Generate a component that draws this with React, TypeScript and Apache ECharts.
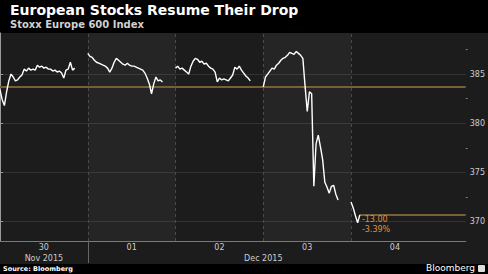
import React, { useEffect, useRef } from "react";
import * as echarts from "echarts";

// ---- data ----
const dayLabels = ["30", "01", "02", "03", "04"];
const monthLabels = ["Nov 2015", "Dec 2015"];
const monthDaySpans = [
  [0, 1],
  [1, 5],
];
const yTicks = [370, 375, 380, 385];
const yMinorTicks = [372.5, 377.5, 382.5, 387.5];
const stepMinutes = 15;
const sessionMinutes = 510;

const nov30 = [
  383.4, 382.4, 381.8, 383.2, 384.3, 385.0, 384.7, 384.3, 384.4, 384.7, 384.9, 385.5,
  385.3, 385.6, 385.4, 385.5, 385.4, 385.9, 385.7, 385.8, 385.6, 385.7, 385.5, 385.5,
  385.3, 385.4, 385.2, 385.3, 385.1, 384.6, 385.4, 385.5, 386.2, 385.4, 385.6,
];
const dec01 = [
  387.1, 386.8, 386.7, 386.4, 386.2, 386.1, 386.0, 385.9, 385.8, 385.6, 385.2, 385.6,
  386.2, 386.6, 386.4, 386.2, 386.0, 385.9, 386.1, 385.9, 385.8, 385.8, 385.7, 385.6,
  385.5, 385.4, 385.1, 384.6, 384.0, 383.0, 384.0, 384.7, 384.3, 384.4, 384.2,
];
const dec02 = [
  385.6, 385.8, 385.5, 385.6, 385.4, 385.2, 385.0, 385.8, 386.3, 386.6, 386.5, 386.2,
  386.3, 386.0, 386.1, 385.8, 385.6, 385.5, 385.2, 384.2, 384.6, 384.4, 384.5, 384.4,
  384.3, 384.6, 384.9, 385.7, 385.5, 385.8, 385.4, 385.1, 384.8, 384.6, 384.3,
];
const dec03 = [
  383.7, 384.7, 385.0, 385.3, 385.6, 385.5, 385.9, 386.1, 386.4, 386.6, 386.7, 386.9,
  387.2, 387.1, 387.0, 387.3, 387.1, 386.9, 386.6, 383.8, 381.2, 383.2, 383.0, 373.6,
  377.9, 378.8, 377.6, 376.3, 374.0, 373.5, 372.9, 373.6, 373.7, 372.8, 372.2,
];
const dec04 = [372.0, 371.4, 370.6, 369.9, 370.7];
const days = [nov30, dec01, dec02, dec03, dec04];

const prevClose = 383.7;

// ---- layout ----
const W = 488;
const H = 274;
const FONT = "DejaVu Sans";
const sessionFraction = 0.852; // share of a day slot covered by the trading session
const xMax = 5.307;
const yMin = 368.04;
const yMax = 389.17;

export default function App() {
  const ref = useRef<HTMLDivElement>(null);

  useEffect(() => {
    if (!ref.current) return;
    const chart = echarts.init(ref.current, undefined, { renderer: "svg" });

    const toX = (d: number, i: number) =>
      d + ((i * stepMinutes) / sessionMinutes) * sessionFraction;

    const lastDay = days.length - 1;
    const lastArr = days[lastDay];
    const lastValue = lastArr[lastArr.length - 1];
    const lastX = toX(lastDay, lastArr.length - 1);
    const change = lastValue - prevClose;
    const pct = (change / prevClose) * 100;

    const labelMap: Record<string, string> = {};
    dayLabels.forEach((l, d) => {
      labelMap[String(d + 0.5)] = l;
    });
    const labelValues: number[] = dayLabels.map((_, d) => d + 0.5);
    monthDaySpans.forEach((span, m) => {
      const c = (span[0] + span[1]) / 2;
      const key = String(c);
      if (labelMap[key] !== undefined) {
        labelMap[key] = labelMap[key] + "\n" + monthLabels[m];
      } else {
        labelMap[key] = "\n" + monthLabels[m];
        labelValues.push(c);
      }
    });

    const bandPairs: any[] = [];
    for (let d = 1; d < days.length; d += 2) {
      bandPairs.push([{ xAxis: d }, { xAxis: d + 1 }]);
    }
    const separators = days.slice(1).map((_, i) => ({ xAxis: i + 1 }));

    const daySeries = days.map((vals, d) => ({
      type: "line",
      data: vals.map((v, i) => [toX(d, i), v]),
      showSymbol: false,
      symbol: "none",
      silent: true,
      z: 5,
      lineStyle: { color: "#ffffff", width: 1.4 },
    }));

    const option: any = {
      animation: false,
      backgroundColor: "#1c1c1c",
      grid: { left: 0, right: 21, top: 33, bottom: 33 },
      xAxis: {
        type: "value",
        min: 0,
        max: xMax,
        axisLine: { show: true, lineStyle: { color: "#7a7a7a", width: 1 } },
        axisTick: {
          show: true,
          customValues: [1],
          length: 22,
          lineStyle: { color: "#666666" },
        },
        axisLabel: {
          show: true,
          customValues: labelValues,
          formatter: (v: number) => labelMap[String(v)] ?? "",
          color: "#cccccc",
          fontSize: 8,
          fontFamily: FONT,
          lineHeight: 11,
          margin: 1,
        },
        splitLine: { show: false },
      },
      yAxis: [
        {
          type: "value",
          position: "right",
          min: yMin,
          max: yMax,
          axisLine: { show: true, lineStyle: { color: "#9a9a9a" } },
          axisTick: {
            show: true,
            customValues: yTicks,
            length: 3,
            lineStyle: { color: "#9a9a9a" },
          },
          axisLabel: {
            customValues: yTicks,
            color: "#cccccc",
            fontSize: 8,
            fontFamily: FONT,
            margin: 4,
          },
          splitLine: { show: true, lineStyle: { color: "#333333", width: 1 } },
        },
        {
          type: "value",
          position: "right",
          min: yMin,
          max: yMax,
          axisLine: { show: false },
          axisTick: {
            show: true,
            customValues: yMinorTicks,
            length: 2,
            lineStyle: { color: "#808080" },
          },
          axisLabel: { show: false },
          splitLine: { show: false },
        },
      ],
      series: [
        {
          type: "line",
          data: [],
          silent: true,
          z: 1,
          markArea: {
            silent: true,
            itemStyle: { color: "rgba(255,255,255,0.045)" },
            data: bandPairs,
          },
          markLine: {
            silent: true,
            symbol: "none",
            label: { show: false },
            lineStyle: { type: [3, 3], color: "#4a4a4a", width: 1 },
            data: separators,
          },
        },
        {
          type: "line",
          data: [],
          silent: true,
          z: 3,
          markLine: {
            silent: true,
            symbol: "none",
            label: { show: false },
            lineStyle: { type: "solid", color: "#76603a", width: 2 },
            data: [
              { yAxis: prevClose },
              [{ coord: [lastX, lastValue] }, { coord: [xMax, lastValue] }],
            ],
          },
        },
        ...daySeries,
        {
          type: "line",
          data: [],
          silent: true,
          z: 6,
          markPoint: {
            silent: true,
            symbol: "rect",
            symbolSize: 0.1,
            itemStyle: { color: "transparent" },
            label: {
              show: true,
              position: "right",
              distance: 2,
              offset: [0, 10],
              color: "#e0913a",
              fontSize: 8,
              fontFamily: FONT,
              lineHeight: 10,
              align: "left",
              formatter: () =>
                `${change.toFixed(2)}\n${pct.toFixed(2)}%`,
            },
            data: [{ coord: [lastX, lastValue] }],
          },
        },
      ],
      graphic: [
        {
          type: "rect",
          shape: { x: 0, y: 0, width: W, height: 33 },
          style: { fill: "#000000" },
          silent: true,
        },
        {
          type: "text",
          x: 10,
          y: 2.5,
          style: {
            text: "European Stocks Resume Their Drop",
            fill: "#ffffff",
            font: `bold 14px "${FONT}"`,
            textVerticalAlign: "top",
          },
          silent: true,
        },
        {
          type: "text",
          x: 10,
          y: 19,
          style: {
            text: "Stoxx Europe 600 Index",
            fill: "#d0d0d0",
            font: `bold 10px "${FONT}"`,
            textVerticalAlign: "top",
          },
          silent: true,
        },
        {
          type: "rect",
          shape: { x: 0, y: 264, width: W, height: 10 },
          style: { fill: "#000000" },
          silent: true,
        },
        {
          type: "text",
          x: 3,
          y: 265,
          style: {
            text: "Source: Bloomberg",
            fill: "#ffffff",
            font: `bold 6.5px "${FONT}"`,
            textVerticalAlign: "top",
          },
          silent: true,
        },
        {
          type: "text",
          x: 475,
          y: 263.5,
          style: {
            text: "Bloomberg",
            fill: "#ffffff",
            font: `9px "${FONT}"`,
            textAlign: "right",
            textVerticalAlign: "top",
          },
          silent: true,
        },
        {
          type: "rect",
          shape: { x: 478, y: 265, width: 7, height: 7, r: 1 },
          style: { fill: "#dddddd" },
          silent: true,
        },
      ],
    };

    chart.setOption(option);
    return () => chart.dispose();
  }, []);

  return (
    <div
      ref={ref}
      style={{ position: "fixed", left: 0, top: 0, width: W, height: H }}
    />
  );
}
